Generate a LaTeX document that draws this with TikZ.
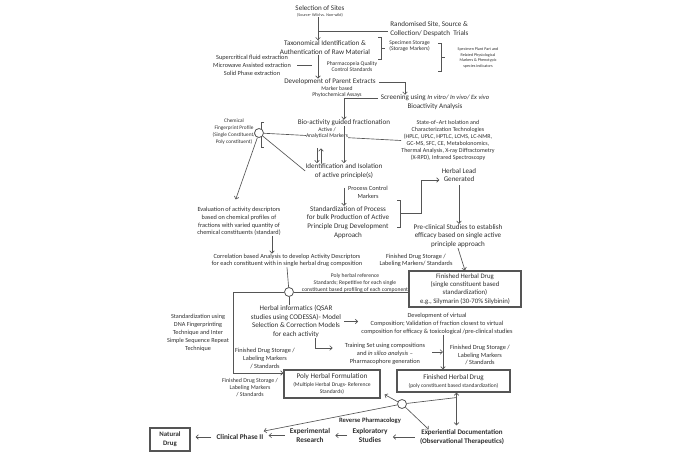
\documentclass[tikz,border=0pt]{standalone}
\usepackage{fontspec}
\setmainfont{Carlito}
\usetikzlibrary{arrows.meta}
\definecolor{txt}{HTML}{2E2E2E}
\definecolor{ln}{HTML}{555555}

\begin{document}
\begin{tikzpicture}[x=1pt, y=-1pt, color=ln, line width=0.65pt, >={Straight Barb[length=2.4pt,width=4.6pt]},
  every node/.style={text=txt, inner sep=0pt, align=center},
  fm/.style={font=\fontsize{7.1}{8.8}\selectfont},
  fs/.style={font=\fontsize{6.3}{7.7}\selectfont},
  ft/.style={font=\fontsize{5.6}{6.8}\selectfont},
  fx/.style={font=\fontsize{4.1}{5.8}\selectfont},
  fb/.style={font=\fontsize{7.3}{9.4}\selectfont\bfseries},
  hub/.style={circle, draw, fill=white, line width=0.8pt, minimum size=9pt},
  hbox/.style={draw, line width=1.1pt, inner sep=2pt},
  back/.style={->, shorten >=5pt, shorten <=5pt}]
\useasboundingbox (0,0) rectangle (685,454);

\node[fm] (sel) at (320, 8) {Selection of Sites};
\node[fx] (selsub) at (320, 15) {(Source- Wild vs. Non-wild)};
\node[fm, align=left, anchor=west] (rand) at (390, 29) {Randomised Site, Source \&\\Collection/ Despatch~~Trials};
\node[fm] (tax) at (325, 47.5) {Taxonomical Identification \&\\Authentication of Raw Material};
\node[ft, align=left, anchor=west] (stor) at (389, 46) {Specimen Storage\\(Storage Markers)};
\node[fx] (spec) at (478, 58) {Specimen Plant Part and\\Related Physiological\\Markers \& Phenotypic\\species indicators};
\node[fs] (extr) at (252, 65.5) {Supercritical fluid extraction\\Microwave Assisted extraction\\Solid Phase extraction};
\node[ft] (pharm) at (352, 66.5) {Pharmacopeia Quality\\Control Standards};
\node[fm] (dev) at (330, 82) {Development of Parent Extracts};
\node[ft] (mark) at (337, 92) {Marker based\\Phytochemical Assays};
\node[fm] (screen) at (435, 102.5) {Screening using {\fontsize{6.5}{8.8}\selectfont\itshape In vitro/ In vivo/ Ex vivo}\\Bioactivity Analysis};
\node[fm] (bio) at (344, 123) {Bio-activity guided fractionation};
\node[font=\fontsize{6}{7}\selectfont] (state) at (448, 140.5) {State-of–Art Isolation and\\Characterization Technologies\\(HPLC, UPLC, HPTLC, LCMS, LC-NMR,\\GC-MS, SFC, CE, Metabolonomics,\\Thermal Analysis, X-ray Diffractometry\\(X-RPD), Infrared Spectroscopy};
\node[font=\fontsize{5.3}{7}\selectfont] (chem) at (234, 132) {Chemical\\Fingerprint Profile\\(Single Constituent/\\Poly constituent)};
\draw (264, 122) -- (261, 122) -- (261, 147) -- (264, 147);
\node[hub] (hubA) at (259, 133) {};
\node[fm] (ident) at (344, 171) {Identification and Isolation\\of active principle(s)};
\node[fs] (proc) at (368, 192) {Process Control\\Markers};
\node[fm] (std) at (348, 222.5) {Standardization of Process\\for bulk Production of Active\\Principle Drug Development\\Approach};
\node[fm] (lead) at (459, 175) {Herbal Lead\\Generated};
\node[fm] (pre) at (458, 236) {Pre-clinical Studies to establish\\efficacy based on single active\\principle approach};
\node[fs] (fs1) at (416, 260.5) {Finished Drug Storage /\\Labeling Markers/ Standards};
\node[hbox, minimum width=112pt, minimum height=36pt, font=\fontsize{6.8}{8.3}\selectfont] (fhd1) at (465, 289) {Finished Herbal Drug\\(single constituent based\\standardization)\\e.g., Silymarin (30-70\% Silybinin)};
\node[fs] (eval) at (239, 221.5) {Evaluation of activity descriptors\\based on chemical profiles of\\fractions with varied quantity of\\chemical constituents (standard)};
\node[fs] (corr) at (287, 260.5) {Correlation based Analysis to develop Activity Descriptors\\for each constituent with in single herbal drug composition};
\node[ft] (polyref) at (355, 283) {Poly herbal reference\\Standards; Repetitive for each single\\constituent based profiling of each component};
\node[hub] (hubB) at (289, 292) {};
\node[fm] (info) at (296, 321.5) {Herbal informatics (QSAR\\studies using CODESSA)- Model\\Selection \& Correction Models\\for each activity};
\node[fs] (dvirt) at (437, 324) {Development of virtual\\Composition; Validation of fraction closest to virtual\\composition for efficacy \& toxicological /pre-clinical studies};
\node[fs] (train) at (385, 354) {Training Set using compositions\\and {\itshape in silico analysis} –\\Pharmacophore generation};
\node[fs] (fs2) at (480, 355) {Finished Drug Storage /\\Labeling Markers\\/ Standards};
\node[hbox, minimum width=113pt, minimum height=22pt, font=\fontsize{5.5}{8}\selectfont] (fhd2) at (453.5, 381) {{\fontsize{7.1}{8}\selectfont Finished Herbal Drug}\\(poly constituent based standardization)};
\node[fs] (fs3) at (265, 358.5) {Finished Drug Storage /\\Labeling Markers\\/ Standards};
\node[font=\fontsize{5.9}{7.4}\selectfont] (fs4) at (250, 387.5) {Finished Drug Storage /\\Labeling Markers\\/ Standards};
\node[font=\fontsize{6.2}{8}\selectfont] (dna) at (198, 333) {Standardization using\\DNA Fingerprinting\\Technique and Inter\\Simple Sequence Repeat\\Technique};
\node[hbox, minimum width=96pt, minimum height=28pt, font=\fontsize{5.6}{7.6}\selectfont] (polyf) at (332, 384) {{\fontsize{7.2}{8}\selectfont Poly Herbal Formulation}\\(Multiple Herbal Drugs- Reference\\Standards)};
\node[hub] (hubC) at (402, 404) {};
\node[font=\fontsize{6.6}{8}\selectfont\bfseries] (rev) at (370, 421) {Reverse Pharmacology};
\node[font=\fontsize{7}{8.5}\selectfont\bfseries] (expd) at (462, 437) {Experiential Documentation\\(Observational Therapeutics)};
\node[hbox, font=\fontsize{6.8}{9}\selectfont\bfseries, minimum width=40pt, minimum height=23pt] (nat) at (170, 439.5) {Natural\\Drug};
\node[fb] (clin) at (240, 437) {Clinical Phase II};
\node[fb] (expr) at (310, 435.5) {Experimental\\Research};
\node[fb] (explo) at (370, 435.5) {Exploratory\\Studies};

\coordinate (j1) at (318, 31.5);
\coordinate (k1) at (233, 373);
\coordinate (br3) at (400, 213.5);
\draw[->] (selsub.south -| j1) -- (tax.north -| j1);
\draw (j1) -- ([xshift=-2pt]j1 -| rand.west);
\draw (378, 37) -- (381, 37) -- (381, 59) -- (378, 59) (381, 48) -- (385, 48);
\draw (438, 43) -- (441, 43) -- (441, 71) -- (438, 71) (441, 57) -- (445, 57);
\draw[->] (tax.south -| j1) -- (dev.north -| j1);
\draw ([xshift=6pt]extr.east) -- ([xshift=-6pt]extr.east -| j1);
\draw[->] ([xshift=3pt]dev.east) -| ([xshift=-30pt]screen.north);
\draw[->] ([xshift=-3pt,yshift=4pt]screen.west) -| (bio.north);
\draw (hubA) -- (state.west);
\node[ft, fill=white] (act) at (327, 133) {Active /\\Analytical Markers};
\path[->] (bio) edge (ident);
\draw[->] ([xshift=-27pt,yshift=-22pt]bio.south) -- ([xshift=-27pt]ident.north);
\draw[->] ([xshift=-23pt]ident.north) -- ([xshift=-23pt,yshift=-22pt]bio.south);
\draw (hubA) -- (ident.west);
\path[->] (hubA) edge[shorten >=8pt] ([xshift=-6pt]eval.north);
\draw[->, shorten <=9pt] (ident.south) -- (ident.south |- std.north);
\draw (397, 200) -- (400, 200) -- (400, 227) -- (397, 227);
\draw[->] (br3) -| ([xshift=-20pt,yshift=-5pt]lead.west) -- ([xshift=-2pt,yshift=-5pt]lead.west);
\draw[->, shorten <=3pt] (lead.south) -- (lead.south |- pre.north);
\path[->] (pre.south) edge (fhd1.north);
\draw[->] ([xshift=33pt]eval.south) -- ([xshift=-15pt]corr.north);
\draw (corr.south) -- (hubB);
\draw (hubB) -- (hubB -| fhd1.west);
\draw[->] (hubB) -| (k1) -- (k1 -| polyf.west);
\draw (hubB) -- (hubB |- info.north);
\draw[->] ([xshift=3pt]info.east) -- ([xshift=-3pt]info.east -| dvirt.west);
\draw[->] ([xshift=19pt]info.south) |- ([xshift=-12pt,yshift=6pt]train.west);
\coordinate (dv) at ([xshift=6pt]dvirt.south);
\draw[->] (dv) -- (dv |- fhd2.north);
\draw[->] ([xshift=7pt,yshift=2pt]train.east) -- ([yshift=2pt]train.east -| dv);
\draw[->] (hubC) -- ([xshift=4pt,yshift=4pt]polyf.south east);
\draw[->] (hubC) -- ([yshift=3pt]clin.north east);
\draw[->] (hubC) -- ([xshift=9pt]expd.north west);
\draw (hubC) -- ([xshift=3pt,yshift=-5pt]fhd2.south);
\draw[<->, shorten >=4pt] ([xshift=3pt]fhd2.south) -- ([xshift=3pt]fhd2.south |- expd.north);
\draw[back] (clin.west) -- (clin.west -| nat.east);
\draw[back] (expr.west) -- (expr.west -| clin.east);
\draw[back] (explo.west) -- (explo.west -| expr.east);
\draw[back] (expd.west) -- (expd.west -| explo.east);
\end{tikzpicture}
\end{document}
